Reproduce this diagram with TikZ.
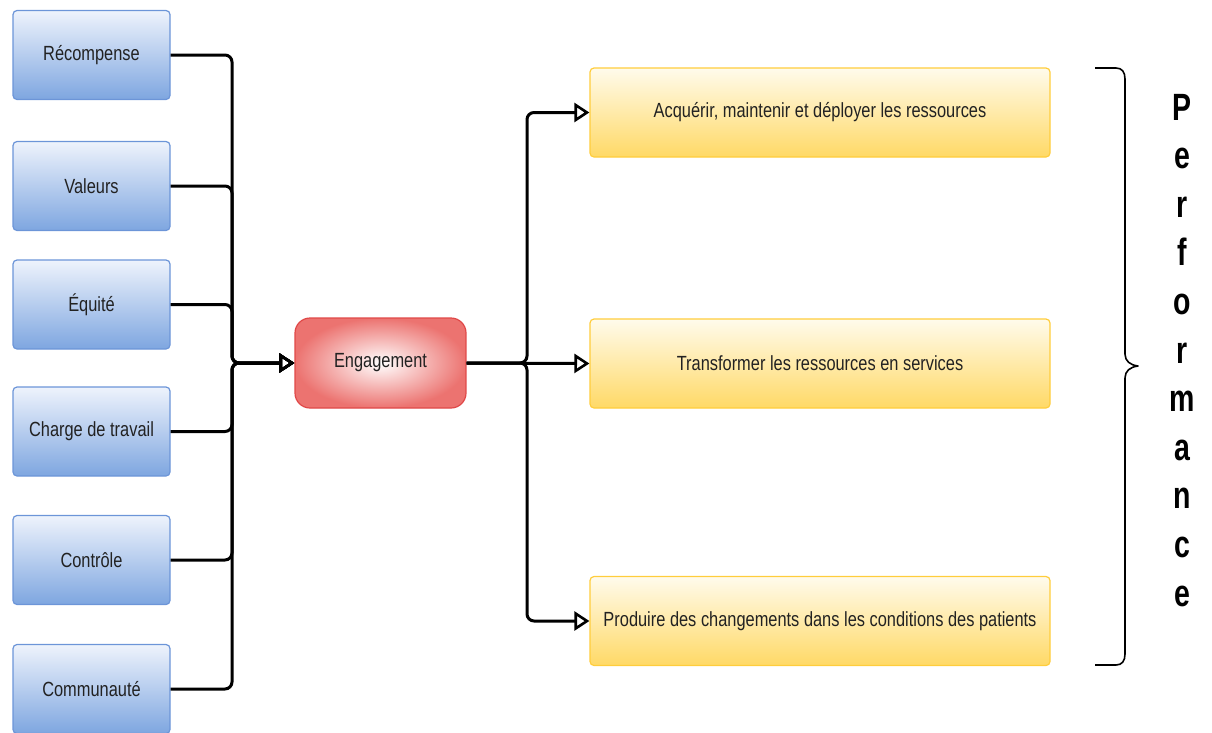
\documentclass[tikz,border=0pt]{standalone}
\usepackage{fontspec}
\setmainfont{Liberation Sans}
\newfontfamily\boxfont{Liberation Sans}[FakeStretch=0.8]
\newfontfamily\perffont{Liberation Sans}[FakeStretch=0.75]
\usetikzlibrary{arrows.meta,shadings}

\definecolor{bluetop}{HTML}{EEF3FC}
\definecolor{bluebot}{HTML}{7EA6E0}
\definecolor{blueline}{HTML}{6C95D8}
\definecolor{yeltop}{HTML}{FFFBEC}
\definecolor{yelbot}{HTML}{FFD966}
\definecolor{yelline}{HTML}{FFCD3C}
\definecolor{redout}{HTML}{EC7370}
\definecolor{redline}{HTML}{E04848}
\definecolor{txt}{HTML}{222222}

\tikzset{
  factor/.style={draw=blueline, line width=1.2pt, rounded corners=4pt,
    top color=bluetop, bottom color=bluebot, minimum width=157pt,
    minimum height=89pt, font=\boxfont\fontsize{20.5}{24}\selectfont, text=txt},
  outcome/.style={draw=yelline, line width=1.2pt, rounded corners=4pt,
    top color=yeltop, bottom color=yelbot, minimum width=460pt,
    minimum height=89pt, font=\boxfont\fontsize{20.5}{24}\selectfont, text=txt},
  core/.style={draw=redline, line width=1.2pt, rounded corners=15pt,
    inner color=white, outer color=redout, minimum width=171pt,
    minimum height=90pt, font=\boxfont\fontsize{20.5}{24}\selectfont, text=txt},
  wire/.style={draw=black, line width=3pt, rounded corners=7pt},
  tip/.style={-{Triangle[open, length=15pt 0 0, width=19pt 0, line width=2.6pt]}},
  letter/.style={anchor=base, inner sep=0pt,
    font=\perffont\bfseries\fontsize{38}{40}\selectfont, text=black},
}

\begin{document}
\begin{tikzpicture}[x=1pt, y=-1pt]
  \useasboundingbox (0,0) rectangle (1212,732);
  \begin{scope}
    \clip (0,0) rectangle (1212,732);

    % determinants of engagement
    \node[factor] (f1) at (91.5,55)  {Récompense};
    \node[factor] (f2) at (91.5,186) {Valeurs};
    \node[factor] (f3) at (91.5,304.5) {Équité};
    \node[factor] (f4) at (91.5,431.5) {Charge de travail};
    \node[factor] (f5) at (91.5,560) {Contrôle};
    \node[factor] (f6) at (91.5,689) {Communauté};

    % central node
    \node[core] (eng) at (380.5,363) {Engagement};

    % performance dimensions
    \node[outcome] (o1) at (820,112.5) {Acquérir, maintenir et déployer les ressources};
    \node[outcome] (o2) at (820,363.5) {Transformer les ressources en services};
    \node[outcome] (o3) at (820,621) {Produire des changements dans les conditions des patients};

    % bus positions
    \coordinate (lbus) at (232,363);
    \coordinate (rbus) at (527,363);

    % inputs merging into the engagement node
    \foreach \f in {f1,f2,f3,f4,f5,f6}
      \draw[wire, tip] (\f.east) -| (lbus) -- (eng.west);

    % engagement feeding the three outcomes
    \draw[wire, tip] (eng.east) -- (rbus) |- (o1.west);
    \draw[wire, tip] (eng.east) -- (o2.west);
    \draw[wire, tip] (eng.east) -- (rbus) |- (o3.west);
  \end{scope}

  % brace grouping the outcomes
  \draw[line width=1.6pt, line join=round]
    (1095,68) -- (1116,68) .. controls (1122,68) and (1125,72) .. (1125,79)
    -- (1125,354) .. controls (1125,361) and (1130,365) .. (1138,366)
    .. controls (1130,367) and (1125,371) .. (1125,378)
    -- (1125,654) .. controls (1125,661) and (1122,665) .. (1116,665)
    -- (1095,665);

  % vertical label
  \foreach \ch [count=\i from 0] in {P,e,r,f,o,r,m,a,n,c,e}
    \node[letter] (p\i) at (1182,{120+48.6*\i}) {\ch};
\end{tikzpicture}
\end{document}
